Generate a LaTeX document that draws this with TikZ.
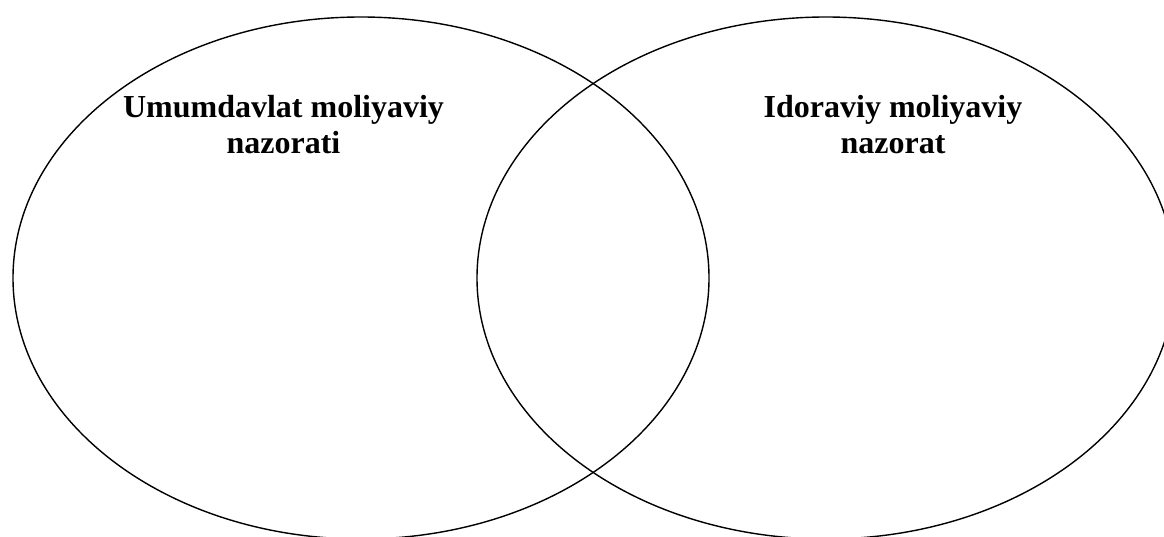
\documentclass[tikz,border=0pt]{standalone}
\usepackage{fontspec}
\setmainfont{Liberation Serif}
\begin{document}
\begin{tikzpicture}[x=1pt,y=1pt,
  venn/.style={draw=black,line width=1.4pt},
  lbl/.style={font=\fontsize{32}{36}\selectfont\bfseries,align=center,anchor=north,inner sep=0pt}]
\useasboundingbox (0,0) rectangle (1164,536);
\clip (0,0) rectangle (1164,536);
\draw[venn] (361,258) ellipse [x radius=348, y radius=261];
\draw[venn] (826,258) ellipse [x radius=349, y radius=261];
\node[lbl] (a) at (283.5,441) {Umumdavlat moliyaviy\\nazorati};
\node[lbl] (b) at (893,441) {Idoraviy moliyaviy\\nazorat};
\end{tikzpicture}
\end{document}
